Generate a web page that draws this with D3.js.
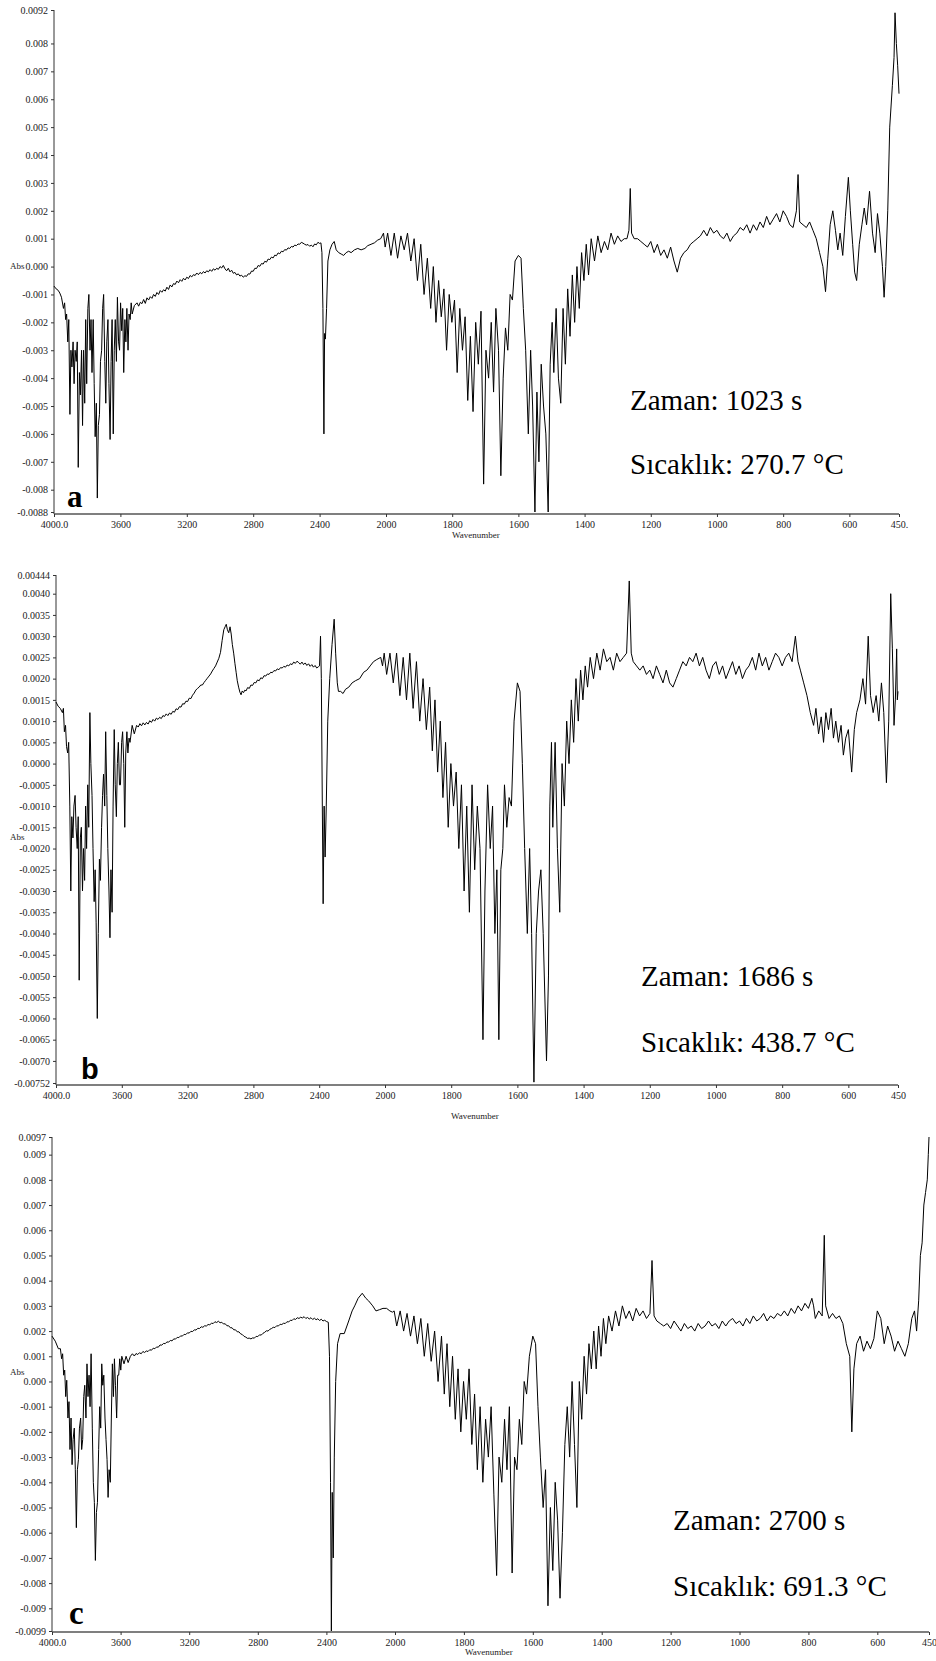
<!DOCTYPE html>
<html><head><meta charset="utf-8">
<script src="https://cdn.jsdelivr.net/npm/d3@7"></script>
<style>body{margin:0;background:#fff}svg{display:block}</style>
</head><body><svg id="chart" width="936" height="1661"></svg>
<script>
// values in milli-Abs (x 1e-3)
const unit = 1e-3;
const spectrumA = [[4000,-0.7],[3987,-0.8],[3975,-0.85],[3965,-0.95],[3955,-1.1],[3943,-1.5],[3936,-1.3],[3930,-1.9],[3924,-1.7],[3917,-2.7],[3911,-1.9],[3904,-5.3],[3898,-3.0],[3892,-3.6],[3885,-2.7],[3879,-4.2],[3873,-3.0],[3866,-3.4],[3860,-2.7],[3854,-7.2],[3847,-3.8],[3841,-4.6],[3834,-3.0],[3828,-5.7],[3822,-3.0],[3815,-4.9],[3809,-1.9],[3803,-4.2],[3796,-1.5],[3790,-1.0],[3783,-3.0],[3777,-1.9],[3771,-3.8],[3764,-1.9],[3758,-4.2],[3752,-6.1],[3745,-4.9],[3739,-8.3],[3733,-5.7],[3726,-5.3],[3720,-3.4],[3713,-3.0],[3707,-1.5],[3701,-1.0],[3694,-3.4],[3688,-4.9],[3682,-2.7],[3675,-1.9],[3669,-4.2],[3662,-6.2],[3656,-3.4],[3650,-1.9],[3643,-6.0],[3637,-3.0],[3631,-1.9],[3624,-3.4],[3618,-1.1],[3611,-2.7],[3605,-3.0],[3599,-1.3],[3592,-2.3],[3586,-1.5],[3580,-3.8],[3573,-1.9],[3567,-2.7],[3561,-1.5],[3554,-3.0],[3548,-1.7],[3541,-1.9],[3535,-1.3],[3529,-1.7],[3516,-1.4],[3500,-1.3],[3490,-1.42],[3480,-1.28],[3470,-1.33],[3460,-1.18],[3450,-1.32],[3440,-1.12],[3430,-1.2],[3420,-1.08],[3410,-1.14],[3400,-1.0],[3390,-1.07],[3380,-0.93],[3370,-1.0],[3360,-0.86],[3350,-0.92],[3340,-0.83],[3330,-0.88],[3320,-0.74],[3310,-0.82],[3300,-0.66],[3290,-0.73],[3280,-0.61],[3270,-0.64],[3260,-0.52],[3250,-0.58],[3240,-0.47],[3230,-0.53],[3220,-0.42],[3210,-0.48],[3200,-0.38],[3190,-0.43],[3180,-0.32],[3170,-0.37],[3160,-0.29],[3150,-0.32],[3140,-0.23],[3130,-0.29],[3120,-0.21],[3110,-0.26],[3100,-0.18],[3090,-0.23],[3080,-0.15],[3070,-0.19],[3060,-0.11],[3050,-0.17],[3040,-0.08],[3030,-0.13],[3020,-0.06],[3010,-0.1],[3000,0.0],[2990,-0.05],[2980,0.04],[2970,-0.08],[2960,-0.15],[2950,-0.06],[2940,-0.19],[2930,-0.13],[2920,-0.24],[2910,-0.21],[2900,-0.3],[2890,-0.26],[2880,-0.34],[2870,-0.31],[2860,-0.38],[2850,-0.33],[2840,-0.35],[2830,-0.26],[2820,-0.27],[2810,-0.16],[2800,-0.17],[2790,-0.06],[2780,-0.07],[2770,0.04],[2760,0.01],[2750,0.11],[2740,0.09],[2730,0.19],[2720,0.16],[2710,0.27],[2700,0.25],[2690,0.34],[2680,0.31],[2670,0.41],[2660,0.39],[2650,0.49],[2640,0.46],[2630,0.55],[2620,0.53],[2610,0.61],[2600,0.59],[2590,0.67],[2580,0.65],[2570,0.72],[2560,0.7],[2550,0.77],[2540,0.75],[2530,0.81],[2520,0.8],[2510,0.87],[2500,0.84],[2490,0.8],[2480,0.77],[2470,0.79],[2460,0.73],[2450,0.77],[2440,0.71],[2430,0.81],[2420,0.78],[2410,0.87],[2400,0.83],[2392,0.85],[2386,0.5],[2380,-1.5],[2374,-6.0],[2370,-2.4],[2365,-2.6],[2358,-1.5],[2350,0.2],[2338,0.6],[2325,0.8],[2312,0.9],[2300,0.6],[2285,0.5],[2270,0.45],[2255,0.4],[2240,0.5],[2225,0.55],[2210,0.5],[2190,0.6],[2170,0.65],[2150,0.6],[2127,0.65],[2110,0.75],[2090,0.8],[2070,0.85],[2050,0.95],[2032,1.0],[2015,1.2],[2005,0.7],[1995,1.2],[1985,0.4],[1975,1.2],[1965,0.3],[1955,1.1],[1945,0.6],[1935,1.2],[1925,0.2],[1915,1.0],[1905,-0.5],[1895,0.8],[1885,-1.0],[1875,0.3],[1865,-1.5],[1857,0.0],[1849,-2.0],[1841,-0.5],[1833,-1.8],[1825,-0.8],[1817,-3.0],[1809,-1.0],[1801,-2.0],[1793,-1.2],[1785,-3.8],[1777,-1.5],[1769,-3.0],[1761,-1.8],[1753,-4.8],[1745,-2.5],[1737,-5.2],[1729,-2.0],[1721,-3.5],[1713,-1.6],[1705,-7.8],[1698,-3.0],[1690,-4.0],[1682,-2.0],[1675,-4.5],[1668,-1.5],[1660,-3.0],[1653,-7.5],[1646,-4.0],[1639,-2.2],[1632,-3.0],[1625,-1.0],[1618,-1.2],[1610,0.2],[1600,0.4],[1592,0.3],[1585,-1.5],[1578,-3.0],[1570,-6.0],[1563,-3.0],[1557,-5.0],[1550,-8.8],[1544,-4.5],[1538,-7.0],[1531,-3.5],[1524,-5.0],[1517,-6.0],[1510,-8.8],[1504,-3.5],[1498,-2.0],[1493,-3.8],[1486,-1.5],[1479,-4.0],[1472,-4.9],[1465,-1.5],[1458,-3.5],[1451,-0.8],[1444,-2.5],[1437,-0.3],[1430,-2.0],[1423,0.0],[1416,-1.5],[1409,0.5],[1402,-0.5],[1395,0.8],[1388,-0.3],[1380,1.0],[1370,0.2],[1360,1.1],[1350,0.5],[1340,0.9],[1330,0.6],[1320,1.2],[1310,0.8],[1300,1.1],[1290,0.9],[1280,1.0],[1272,1.0],[1266,1.3],[1262,2.8],[1258,1.2],[1250,1.0],[1240,1.0],[1230,0.9],[1220,0.8],[1210,0.7],[1200,0.9],[1190,0.5],[1180,0.8],[1170,0.4],[1160,0.6],[1150,0.3],[1140,0.7],[1130,0.2],[1120,-0.2],[1110,0.3],[1100,0.5],[1090,0.6],[1080,0.8],[1070,0.9],[1060,1.0],[1050,1.1],[1040,1.3],[1030,1.1],[1020,1.4],[1010,1.2],[1000,1.3],[990,1.1],[980,1.0],[970,1.2],[960,0.9],[950,1.1],[940,1.2],[930,1.4],[920,1.3],[910,1.5],[900,1.2],[890,1.5],[880,1.3],[870,1.6],[860,1.4],[850,1.8],[840,1.5],[830,1.7],[820,1.9],[810,1.6],[800,2.0],[790,1.8],[780,1.5],[770,1.4],[760,2.0],[755,3.3],[750,1.6],[740,1.5],[730,1.4],[720,1.6],[710,1.3],[700,1.0],[690,0.5],[680,0.0],[672,-0.9],[665,0.3],[658,1.5],[650,2.0],[642,1.3],[635,0.6],[628,1.2],[620,0.4],[612,1.8],[603,3.2],[597,2.0],[590,0.8],[584,-0.2],[578,-0.5],[570,0.8],[562,1.5],[555,2.1],[548,1.5],[539,2.7],[530,1.2],[522,0.5],[515,1.9],[508,1.2],[500,0.0],[495,-1.1],[490,0.0],[484,2.0],[478,5.0],[470,6.5],[465,7.5],[462,9.1],[458,8.0],[454,7.2],[450,6.2]];

const spectrumB = [[4000,1.45],[3987,1.35],[3974,1.3],[3961,1.2],[3955,1.3],[3949,0.75],[3942,0.9],[3936,0.4],[3929,0.25],[3923,0.5],[3916,-1.0],[3910,-3.0],[3904,-1.25],[3897,-1.75],[3891,-1.0],[3884,-0.75],[3878,-1.5],[3871,-2.0],[3865,-1.25],[3859,-5.1],[3852,-1.75],[3846,-1.5],[3839,-3.0],[3833,-2.0],[3826,-2.75],[3820,-1.0],[3814,-2.0],[3807,-0.5],[3801,-1.5],[3794,1.2],[3788,0.0],[3781,-0.75],[3775,-2.0],[3768,-3.25],[3762,-2.5],[3756,-3.75],[3749,-6.0],[3743,-4.0],[3736,-2.25],[3730,-2.75],[3723,-1.5],[3717,-0.75],[3711,-0.25],[3704,-1.0],[3698,0.75],[3691,-0.75],[3685,-2.0],[3678,-3.0],[3672,-4.1],[3666,-2.5],[3659,-3.5],[3653,-1.0],[3646,0.8],[3640,-0.5],[3633,-1.25],[3627,0.0],[3621,0.5],[3614,-0.5],[3608,-0.5],[3601,0.5],[3595,0.75],[3588,0.0],[3582,-1.5],[3576,0.25],[3569,0.75],[3563,0.25],[3556,0.6],[3550,0.5],[3537,0.9],[3524,0.7],[3510,0.9],[3500,0.86],[3490,0.94],[3480,0.89],[3470,0.96],[3460,0.91],[3450,0.97],[3440,0.93],[3430,1.01],[3420,0.97],[3410,1.04],[3400,1.0],[3390,1.07],[3380,1.04],[3370,1.09],[3360,1.06],[3350,1.13],[3340,1.11],[3330,1.17],[3320,1.13],[3310,1.19],[3300,1.16],[3290,1.23],[3280,1.21],[3270,1.29],[3260,1.27],[3250,1.34],[3240,1.33],[3230,1.41],[3220,1.4],[3210,1.47],[3200,1.46],[3190,1.54],[3180,1.53],[3170,1.61],[3160,1.66],[3150,1.73],[3140,1.77],[3130,1.8],[3120,1.85],[3110,1.85],[3100,1.91],[3090,1.96],[3080,2.01],[3070,2.06],[3060,2.11],[3050,2.18],[3040,2.24],[3030,2.3],[3020,2.39],[3010,2.48],[3000,2.62],[2990,2.9],[2980,3.15],[2972,3.22],[2965,3.28],[2958,3.15],[2950,3.08],[2942,3.22],[2935,3.05],[2928,2.8],[2920,2.6],[2912,2.35],[2905,2.15],[2898,1.95],[2890,1.8],[2882,1.68],[2875,1.62],[2868,1.71],[2860,1.67],[2852,1.73],[2845,1.71],[2835,1.79],[2825,1.77],[2815,1.85],[2805,1.84],[2795,1.91],[2785,1.9],[2775,1.97],[2765,1.95],[2755,2.02],[2745,2.0],[2735,2.07],[2725,2.06],[2715,2.11],[2705,2.1],[2695,2.15],[2685,2.14],[2675,2.19],[2665,2.18],[2655,2.23],[2645,2.21],[2635,2.26],[2625,2.25],[2615,2.29],[2605,2.27],[2595,2.32],[2585,2.3],[2575,2.35],[2565,2.33],[2555,2.39],[2545,2.36],[2535,2.41],[2525,2.38],[2515,2.34],[2505,2.39],[2495,2.33],[2485,2.37],[2475,2.31],[2465,2.35],[2455,2.29],[2445,2.33],[2435,2.27],[2425,2.31],[2415,2.25],[2405,2.28],[2398,2.3],[2392,3.0],[2387,2.0],[2381,-1.0],[2376,-3.3],[2370,-1.0],[2364,-2.2],[2357,-1.0],[2348,1.0],[2336,2.0],[2322,2.8],[2309,3.4],[2300,2.6],[2290,1.9],[2283,1.7],[2270,1.7],[2255,1.65],[2240,1.75],[2220,1.8],[2200,1.9],[2180,1.95],[2154,2.0],[2130,2.15],[2110,2.2],[2090,2.3],[2070,2.4],[2050,2.45],[2026,2.5],[2015,2.3],[2005,2.6],[1995,2.1],[1985,2.6],[1975,1.9],[1965,2.6],[1955,1.6],[1945,2.5],[1935,1.5],[1925,2.6],[1915,1.3],[1905,2.4],[1895,1.0],[1885,2.0],[1875,0.8],[1865,1.8],[1857,0.3],[1849,1.5],[1841,-0.2],[1833,1.0],[1825,-0.8],[1817,0.5],[1809,-1.5],[1801,0.0],[1793,-1.0],[1785,-0.2],[1777,-2.0],[1769,-0.5],[1761,-3.0],[1753,-1.0],[1745,-3.5],[1737,-0.5],[1729,-2.5],[1721,-1.0],[1713,-2.0],[1704,-6.5],[1698,-3.0],[1690,-0.5],[1682,-2.0],[1675,-1.0],[1668,-4.0],[1662,-2.5],[1656,-6.5],[1650,-2.5],[1644,-2.0],[1639,-0.5],[1632,-1.5],[1625,-0.8],[1618,-1.0],[1610,1.0],[1600,1.9],[1592,1.7],[1585,0.0],[1578,-2.0],[1570,-4.0],[1563,-2.0],[1557,-4.0],[1550,-7.5],[1543,-4.0],[1536,-3.0],[1529,-2.5],[1522,-4.0],[1512,-7.0],[1506,-5.0],[1502,-1.0],[1497,0.5],[1493,-1.5],[1486,0.5],[1479,-2.0],[1472,-3.5],[1465,0.0],[1458,-1.0],[1451,1.0],[1444,0.0],[1437,1.5],[1430,0.5],[1423,2.0],[1416,1.0],[1409,2.2],[1402,1.5],[1395,2.3],[1388,1.8],[1380,2.5],[1370,2.0],[1360,2.6],[1350,2.2],[1340,2.7],[1330,2.4],[1320,2.5],[1310,2.2],[1300,2.6],[1290,2.4],[1280,2.5],[1270,2.6],[1262,4.3],[1256,2.6],[1250,2.4],[1240,2.3],[1230,2.2],[1220,2.3],[1210,2.1],[1200,2.2],[1190,2.0],[1180,2.3],[1170,2.1],[1160,1.9],[1150,2.2],[1140,1.9],[1130,1.8],[1120,2.0],[1110,2.2],[1100,2.4],[1090,2.3],[1080,2.5],[1070,2.4],[1060,2.6],[1050,2.3],[1040,2.5],[1030,2.2],[1020,2.0],[1010,2.3],[1000,2.4],[990,2.1],[980,2.3],[970,2.0],[960,2.2],[950,2.4],[940,2.1],[930,2.3],[920,2.0],[910,2.2],[900,2.3],[890,2.5],[880,2.2],[870,2.6],[860,2.3],[850,2.5],[840,2.2],[830,2.4],[820,2.6],[810,2.5],[800,2.3],[790,2.5],[780,2.6],[770,2.4],[760,3.0],[752,2.4],[745,2.2],[735,1.9],[725,1.6],[715,1.2],[705,0.9],[698,1.3],[690,0.7],[682,1.1],[675,0.5],[668,1.2],[660,0.8],[652,1.3],[645,0.6],[638,1.0],[630,0.5],[622,0.9],[615,0.2],[608,0.6],[600,0.8],[590,-0.2],[582,0.8],[575,1.2],[565,1.5],[556,2.0],[548,1.4],[540,3.0],[533,1.6],[525,1.2],[516,1.6],[508,1.0],[500,1.9],[493,1.2],[485,-0.45],[478,1.0],[472,4.0],[467,2.7],[462,0.9],[458,1.5],[454,2.7],[452,1.5],[450,1.7]];

const spectrumC = [[4000,1.8],[3981,1.6],[3963,1.3],[3951,1.3],[3944,0.9],[3938,1.1],[3932,0.25],[3926,0.45],[3920,-0.6],[3914,0.05],[3907,-1.45],[3901,-0.8],[3895,-2.7],[3889,-1.45],[3883,-3.3],[3877,-2.3],[3870,-1.85],[3864,-3.5],[3858,-5.8],[3852,-3.5],[3846,-3.1],[3840,-1.85],[3833,-1.45],[3827,-2.7],[3821,-2.3],[3815,-0.6],[3809,-0.15],[3802,-1.45],[3796,0.7],[3790,-0.6],[3784,0.25],[3778,-1.0],[3772,1.1],[3765,-1.85],[3759,-4.0],[3753,-4.8],[3747,-7.1],[3741,-5.2],[3735,-4.8],[3728,-2.7],[3722,-1.0],[3716,-1.85],[3710,0.7],[3704,-0.15],[3698,0.25],[3691,-1.45],[3685,-2.3],[3679,-3.1],[3673,-4.6],[3667,-3.5],[3660,-4.0],[3654,-1.45],[3648,0.7],[3642,-0.6],[3636,0.9],[3630,-0.15],[3623,-1.45],[3617,0.25],[3611,0.25],[3605,0.9],[3599,0.45],[3593,1.0],[3580,0.7],[3568,1.0],[3556,0.75],[3543,1.0],[3531,1.1],[3520,1.01],[3510,1.11],[3500,1.07],[3490,1.14],[3480,1.1],[3470,1.19],[3460,1.15],[3450,1.21],[3440,1.19],[3430,1.26],[3420,1.24],[3410,1.32],[3400,1.3],[3390,1.37],[3380,1.36],[3370,1.45],[3360,1.44],[3350,1.51],[3340,1.5],[3330,1.57],[3320,1.56],[3310,1.63],[3300,1.61],[3290,1.69],[3280,1.68],[3270,1.75],[3260,1.74],[3250,1.81],[3240,1.8],[3230,1.87],[3220,1.86],[3210,1.93],[3200,1.92],[3190,1.99],[3180,1.98],[3170,2.05],[3160,2.04],[3150,2.11],[3140,2.1],[3130,2.17],[3120,2.15],[3110,2.21],[3100,2.2],[3090,2.26],[3080,2.25],[3070,2.31],[3060,2.3],[3050,2.37],[3040,2.34],[3030,2.39],[3020,2.33],[3010,2.35],[3000,2.28],[2990,2.29],[2980,2.21],[2970,2.21],[2960,2.13],[2950,2.13],[2940,2.05],[2930,2.05],[2920,1.97],[2910,1.97],[2900,1.89],[2890,1.86],[2880,1.79],[2870,1.76],[2860,1.71],[2850,1.72],[2840,1.69],[2830,1.73],[2820,1.72],[2810,1.79],[2800,1.78],[2790,1.85],[2780,1.84],[2770,1.91],[2760,1.95],[2750,2.01],[2740,2.0],[2730,2.07],[2720,2.1],[2710,2.15],[2700,2.14],[2690,2.21],[2680,2.2],[2670,2.27],[2660,2.26],[2650,2.31],[2640,2.3],[2630,2.37],[2620,2.36],[2610,2.43],[2600,2.42],[2590,2.49],[2580,2.46],[2570,2.53],[2560,2.5],[2550,2.55],[2540,2.52],[2530,2.57],[2520,2.5],[2510,2.54],[2500,2.48],[2490,2.53],[2480,2.46],[2470,2.51],[2460,2.45],[2450,2.49],[2440,2.42],[2430,2.47],[2420,2.4],[2410,2.43],[2400,2.38],[2389,2.35],[2382,1.0],[2376,-4.0],[2371,-9.9],[2366,-4.4],[2360,-7.0],[2354,-3.0],[2346,0.0],[2335,1.5],[2320,1.9],[2296,1.9],[2270,2.4],[2250,2.8],[2235,3.0],[2215,3.3],[2191,3.5],[2170,3.3],[2154,3.2],[2130,3.0],[2111,2.8],[2090,2.85],[2070,2.9],[2049,2.9],[2030,2.8],[2015,2.75],[2005,2.8],[1995,2.2],[1985,2.8],[1975,2.0],[1965,2.7],[1955,1.8],[1945,2.6],[1935,1.5],[1925,2.5],[1915,1.0],[1905,2.3],[1895,0.8],[1885,2.0],[1875,0.0],[1865,1.8],[1857,-0.5],[1849,1.5],[1841,-1.0],[1833,1.0],[1825,-1.5],[1817,0.5],[1809,-2.0],[1801,0.0],[1793,-1.5],[1785,0.5],[1777,-2.5],[1769,-0.5],[1761,-3.5],[1753,-1.0],[1745,-4.0],[1737,-1.5],[1729,-3.0],[1721,-1.0],[1713,-4.5],[1705,-7.7],[1698,-3.0],[1690,-4.0],[1682,-1.5],[1675,-3.5],[1668,-1.0],[1660,-7.6],[1653,-3.0],[1646,-3.5],[1639,-1.5],[1632,-2.5],[1625,0.0],[1618,-0.5],[1610,1.0],[1600,1.8],[1592,1.5],[1585,-1.0],[1578,-3.0],[1570,-5.0],[1563,-3.5],[1556,-8.9],[1549,-5.0],[1542,-7.5],[1535,-4.0],[1528,-5.5],[1521,-8.6],[1514,-6.0],[1507,-2.5],[1500,-1.0],[1493,-3.0],[1486,0.0],[1479,-2.5],[1472,-5.0],[1465,0.0],[1458,-1.5],[1451,1.0],[1444,-0.5],[1437,1.5],[1430,0.5],[1423,2.0],[1416,0.5],[1409,2.2],[1402,1.0],[1395,2.5],[1388,1.5],[1380,2.6],[1370,2.0],[1360,2.8],[1350,2.2],[1340,3.0],[1330,2.5],[1320,2.8],[1310,2.4],[1300,2.9],[1290,2.6],[1280,2.8],[1270,2.5],[1260,2.7],[1254,4.8],[1248,2.6],[1240,2.4],[1230,2.3],[1220,2.2],[1210,2.3],[1200,2.1],[1190,2.4],[1180,2.2],[1170,2.0],[1160,2.3],[1150,2.1],[1140,2.2],[1130,2.0],[1120,2.3],[1110,2.1],[1100,2.2],[1090,2.4],[1080,2.2],[1070,2.3],[1060,2.1],[1050,2.4],[1040,2.2],[1030,2.4],[1020,2.5],[1010,2.3],[1000,2.4],[990,2.2],[980,2.5],[970,2.3],[960,2.6],[950,2.4],[940,2.5],[930,2.7],[920,2.4],[910,2.6],[900,2.5],[890,2.7],[880,2.6],[870,2.8],[860,2.6],[850,2.9],[840,2.7],[830,3.0],[820,2.8],[810,3.1],[800,2.9],[790,3.3],[785,3.0],[780,2.5],[770,2.8],[760,2.6],[754,5.8],[750,3.0],[740,2.5],[730,2.7],[720,2.5],[710,2.6],[700,2.3],[690,1.5],[680,1.0],[674,-2.0],[668,0.5],[660,1.5],[650,1.8],[640,1.2],[630,1.6],[620,1.3],[610,1.7],[600,2.8],[590,2.5],[580,1.5],[570,2.2],[560,1.8],[550,1.2],[540,1.6],[530,1.3],[520,1.0],[510,1.5],[500,2.5],[492,2.8],[486,2.0],[480,3.2],[475,5.0],[470,5.5],[465,7.0],[460,7.5],[455,8.0],[452,9.0],[450,9.7]];

const xBreaks = [4000, 2000, 450];
const xTickValues = [4000,3600,3200,2800,2400,2000,1800,1600,1400,1200,1000,800,600,450];
const xTickLabelsA = ["4000.0","3600","3200","2800","2400","2000","1800","1600","1400","1200","1000","800","600","450."];
const xTickLabelsBC = ["4000.0","3600","3200","2800","2400","2000","1800","1600","1400","1200","1000","800","600","450"];

const yTicksA = [0.0092,0.008,0.007,0.006,0.005,0.004,0.003,0.002,0.001,0,-0.001,-0.002,-0.003,-0.004,-0.005,-0.006,-0.007,-0.008,-0.0088];
const yLabelsA = ["0.0092","0.008","0.007","0.006","0.005","0.004","0.003","0.002","0.001","0.000","-0.001","-0.002","-0.003","-0.004","-0.005","-0.006","-0.007","-0.008","-0.0088"];
const yTicksB = [0.00444,0.004,0.0035,0.003,0.0025,0.002,0.0015,0.001,0.0005,0,-0.0005,-0.001,-0.0015,-0.002,-0.0025,-0.003,-0.0035,-0.004,-0.0045,-0.005,-0.0055,-0.006,-0.0065,-0.007,-0.00752];
const yLabelsB = ["0.00444","0.0040","0.0035","0.0030","0.0025","0.0020","0.0015","0.0010","0.0005","0.0000","-0.0005","-0.0010","-0.0015","-0.0020","-0.0025","-0.0030","-0.0035","-0.0040","-0.0045","-0.0050","-0.0055","-0.0060","-0.0065","-0.0070","-0.00752"];
const yTicksC = [0.0097,0.009,0.008,0.007,0.006,0.005,0.004,0.003,0.002,0.001,0,-0.001,-0.002,-0.003,-0.004,-0.005,-0.006,-0.007,-0.008,-0.009,-0.0099];
const yLabelsC = ["0.0097","0.009","0.008","0.007","0.006","0.005","0.004","0.003","0.002","0.001","0.000","-0.001","-0.002","-0.003","-0.004","-0.005","-0.006","-0.007","-0.008","-0.009","-0.0099"];

const zamanTexts = ["Zaman: 1023 s","Zaman: 1686 s","Zaman: 2700 s"];
const sicaklikTexts = ["Sıcaklık: 270.7 °C","Sıcaklık: 438.7 °C","Sıcaklık: 691.3 °C"];
const panelLetters = ["a","b","c"];

const layout = [
  {data: spectrumA, yTicks: yTicksA, yLabels: yLabelsA, xLabels: xTickLabelsA,
   xRange: [54, 386, 899], yRange: [512, 10], axisY: 514,
   absPos: [10, 269], wavePos: [452, 538], letterPos: [67, 507], letterFont: "bold 31px 'Liberation Serif', serif",
   textX: 630, zamanY: 410, sicY: 474},
  {data: spectrumB, yTicks: yTicksB, yLabels: yLabelsB, xLabels: xTickLabelsBC,
   xRange: [56, 385, 898], yRange: [1083, 575], axisY: 1085,
   absPos: [10, 840], wavePos: [451, 1119], letterPos: [81, 1079], letterFont: "bold 29px 'Liberation Sans', sans-serif",
   textX: 641, zamanY: 986, sicY: 1052},
  {data: spectrumC, yTicks: yTicksC, yLabels: yLabelsC, xLabels: xTickLabelsBC,
   xRange: [52, 395, 929], yRange: [1631, 1137], axisY: 1632,
   absPos: [10, 1375], wavePos: [465, 1655], letterPos: [69, 1624], letterFont: "bold 33px 'Liberation Serif', serif",
   textX: 673, zamanY: 1530, sicY: 1596}
];

const svg = d3.select("#chart");
const tickFont = "10px 'Liberation Serif', serif";

layout.forEach((p, i) => {
  const x = d3.scaleLinear().domain(xBreaks).range(p.xRange);
  const yDom = [p.yTicks[p.yTicks.length-1], p.yTicks[0]];
  const y = d3.scaleLinear().domain(yDom).range(p.yRange);
  const g = svg.append("g");

  const yAxis = d3.axisLeft(y).tickValues(p.yTicks).tickSize(3).tickPadding(3)
      .tickFormat((d, k) => p.yLabels[k]);
  const ya = g.append("g").attr("transform", `translate(${p.xRange[0]},0)`).call(yAxis);
  ya.select(".domain").attr("d", `M0,${p.yRange[1]}V${p.axisY}`).attr("stroke", "#333");
  ya.selectAll(".tick line").attr("stroke", "#333");
  ya.selectAll("text").style("font", tickFont).attr("fill", "#222");

  const xAxis = d3.axisBottom(x).tickValues(xTickValues).tickSize(3).tickPadding(4)
      .tickFormat((d, k) => p.xLabels[k]);
  const xa = g.append("g").attr("transform", `translate(0,${p.axisY})`).call(xAxis);
  xa.select(".domain").attr("d", `M${p.xRange[0]},0H${p.xRange[2]}`).attr("stroke", "#555").attr("stroke-width", 1.3);
  xa.selectAll(".tick line").attr("stroke", "#333");
  xa.selectAll("text").style("font", tickFont).attr("fill", "#222");

  const line = d3.line().x(d => x(d[0])).y(d => y(d[1] * unit));
  g.append("path").datum(p.data).attr("d", line)
    .attr("fill", "none").attr("stroke", "#000").attr("stroke-width", 1).attr("stroke-linejoin", "round");

  g.append("text").attr("x", p.absPos[0]).attr("y", p.absPos[1]).text("Abs")
    .style("font", "9px 'Liberation Serif', serif").attr("fill", "#222");
  g.append("text").attr("x", p.wavePos[0]).attr("y", p.wavePos[1]).text("Wavenumber")
    .style("font", "9px 'Liberation Serif', serif").attr("fill", "#222");
  g.append("text").attr("x", p.letterPos[0]).attr("y", p.letterPos[1]).text(panelLetters[i])
    .style("font", p.letterFont).attr("fill", "#000");
  g.append("text").attr("x", p.textX).attr("y", p.zamanY).text(zamanTexts[i])
    .style("font", "29px 'Liberation Serif', serif").attr("fill", "#000");
  g.append("text").attr("x", p.textX).attr("y", p.sicY).text(sicaklikTexts[i])
    .style("font", "29px 'Liberation Serif', serif").attr("fill", "#000");
});
</script></body></html>
